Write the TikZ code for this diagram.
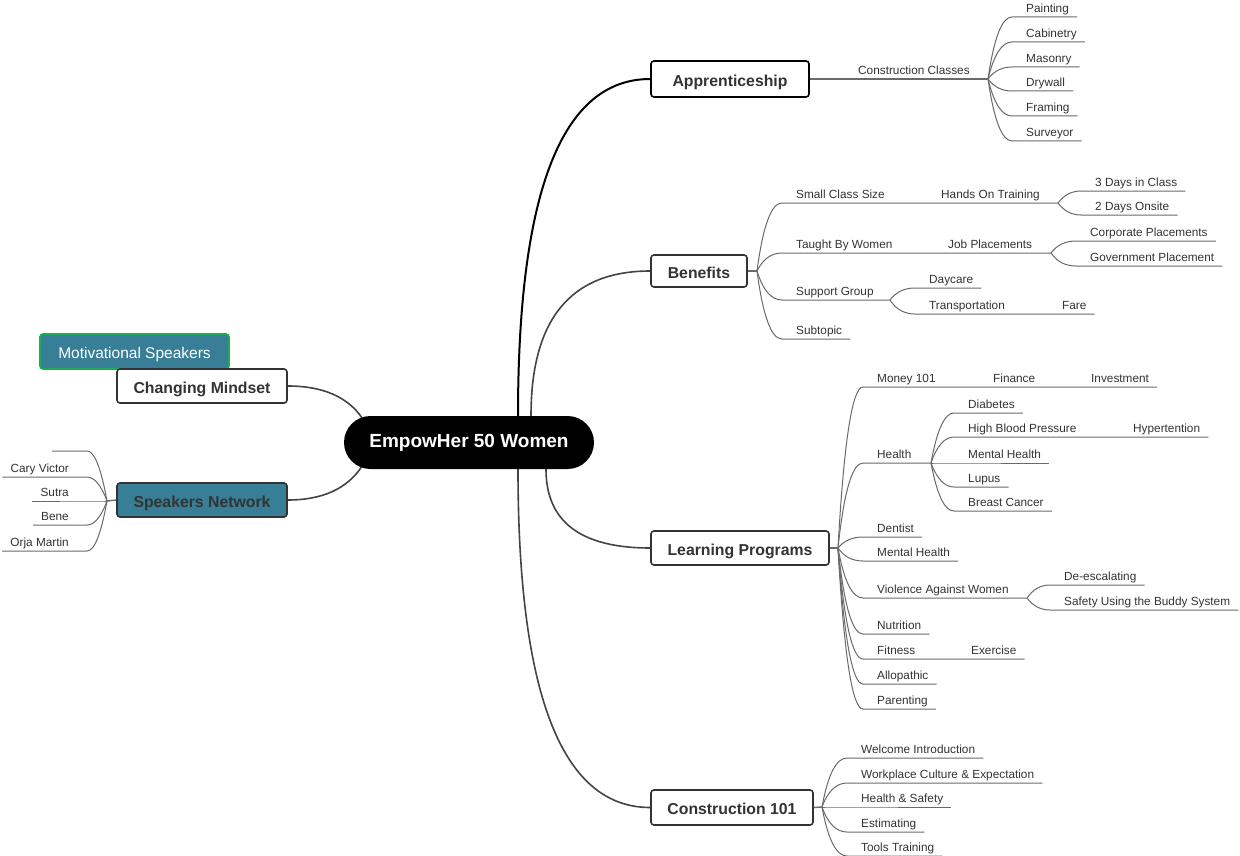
\documentclass[tikz,border=0pt]{standalone}
\usepackage{fontspec}
\setmainfont{Liberation Sans}
\usetikzlibrary{calc,backgrounds}
\definecolor{tealfill}{HTML}{377E96}
\definecolor{grnline}{HTML}{1AAF55}
\definecolor{txtc}{HTML}{333333}
\definecolor{twigc}{HTML}{6A6A6A}
\definecolor{branchc}{HTML}{444444}
\tikzset{
  leaf/.style={inner xsep=0pt, inner ysep=4.5pt, text height=8.6pt, text depth=0pt,
    font=\fontsize{11.8}{14}\selectfont, text=txtc},
  twigline/.style={draw=twigc, line width=1pt},
  topic/.style={draw=txtc, line width=1.6pt, rounded corners=3pt, fill=white, inner sep=0pt,
    text height=14.5pt, text depth=0pt,
    font=\bfseries\fontsize{15.8}{18}\selectfont, text=txtc},
  central/.style={fill=black, rounded corners=26.5pt, minimum width=250pt, minimum height=53pt,
    inner sep=0pt, text=white, font=\bfseries\fontsize{19}{22}\selectfont},
  mainbranch/.style={draw=branchc, line width=1.6pt},
}
% quadratic-looking curve: start, control, end (all coordinate names)
\newcommand{\qcurve}[4][]{%
  \draw[#1] (#2) .. controls ($(#2)!0.667!(#3)$) and ($(#4)!0.667!(#3)$) .. (#4);
}
% right-hand twig: parent, node name, end of underline
\newcommand{\twigC}[3]{%
  \coordinate (#2-k) at ($(#1 |- #2.south west)+(9,0)$);
  \coordinate (#2-e) at ([xshift=-14pt]#2.south west);
  \draw[twigline] (#1) .. controls ($(#1)!0.667!(#2-k)$) and ($(#2-e)!0.667!(#2-k)$) .. (#2-e) -- #3;
}
% right-hand leaf: parent, name, text x, line y, text
\newcommand{\twigR}[5]{%
  \node[leaf, anchor=south west] (#2) at (#3,#4) {#5};
  \twigC{#1}{#2}{([xshift=8pt]#2.south east)}
}
% left-hand leaf: parent, name, text end x, line y, text
\newcommand{\twigL}[5]{%
  \node[leaf, anchor=south east] (#2) at (#3,#4) {#5};
  \coordinate (#2-k) at ($(#1 |- #2.south east)+(-9,0)$);
  \coordinate (#2-e) at ([xshift=18pt]#2.south east);
  \draw[twigline] (#1) .. controls ($(#1)!0.667!(#2-k)$) and ($(#2-e)!0.667!(#2-k)$) .. (#2-e) -- ([xshift=-8pt]#2.south west);
}
\begin{document}
\begin{tikzpicture}[x=1pt,y=-1pt]
\useasboundingbox (0,0) rectangle (1240,856);

% ---------- main nodes ----------
\node[central] (c) at (469,442.5) {EmpowHer 50 Women};
\node[topic, draw=black, minimum width=158pt, minimum height=36pt] (app) at (730,79) {Apprenticeship};
\node[topic, minimum width=96pt, minimum height=32pt] (ben) at (699,271) {Benefits};
\node[topic, minimum width=178pt, minimum height=34pt] (lp) at (740,548) {Learning Programs};
\node[topic, minimum width=162pt, minimum height=35pt] (cone) at (732,807.5) {Construction 101};
\node[draw=grnline, fill=tealfill, line width=1.6pt, rounded corners=3pt, inner sep=0pt,
      minimum width=189pt, minimum height=35pt, text=white, text height=13pt, text depth=0pt,
      font=\fontsize{15.5}{18}\selectfont] (ms) at (134.5,351.5) {Motivational Speakers};
\node[topic, minimum width=170pt, minimum height=34pt] (cm) at (202,386) {Changing Mindset};
\node[topic, fill=tealfill, minimum width=170pt, minimum height=34pt] (sn) at (202,500) {Speakers Network};

% ---------- main branches ----------
\coordinate (sA) at ($(c.north)+(49,0)$);   \coordinate (kA) at (sA |- app.west);
\coordinate (sB) at ($(c.north)+(62,0)$);   \coordinate (kB) at (sB |- ben.west);
\coordinate (sL) at ($(c.south)+(77,0)$);   \coordinate (kL) at (sL |- lp.west);
\coordinate (sC) at ($(c.south)+(49,0)$);   \coordinate (kC) at (sC |- cone.west);
\coordinate (sM) at ($(c.north)+(-107,2)$); \coordinate (kM) at ($(cm.east)+(52,0)$);
\coordinate (sN) at ($(c.south)+(-107,-3)$);\coordinate (kN) at ($(sn.east)+(52,0)$);
\begin{pgfonlayer}{background}
\fill[white] (0,0) rectangle (1240,856);
\qcurve[mainbranch, draw=black, line width=2pt]{sA}{kA}{app.west}
\qcurve[mainbranch]{sB}{kB}{ben.west}
\qcurve[mainbranch]{sL}{kL}{lp.west}
\qcurve[mainbranch]{sC}{kC}{cone.west}
\qcurve[mainbranch]{sM}{kM}{cm.east}
\qcurve[mainbranch]{sN}{kN}{sn.east}
\end{pgfonlayer}

% ---------- Apprenticeship ----------
\coordinate (jA) at (988,79);
\node[leaf, anchor=south west] (cc) at (858,79) {Construction Classes};
\draw[twigline, line width=1.4pt] (app.east) -- (jA);
\twigR{jA}{pa}{1026}{17}{Painting}
\twigR{jA}{ca}{1026}{42}{Cabinetry}
\twigR{jA}{ma}{1026}{67}{Masonry}
\twigR{jA}{dr}{1026}{91}{Drywall}
\twigR{jA}{fr}{1026}{116}{Framing}
\twigR{jA}{su}{1026}{141}{Surveyor}

% ---------- Benefits ----------
\coordinate (jB) at (757,271);
\draw[twigline, line width=1.4pt] (ben.east) -- (jB);
\coordinate (jH) at (1058,203);
\node[leaf, anchor=south west] (scs) at (796,203) {Small Class Size};
\node[leaf, anchor=south west] (hot) at (941,203) {Hands On Training};
\twigC{jB}{scs}{(jH)}
\twigR{jH}{dthree}{1095}{191}{3 Days in Class}
\twigR{jH}{dtwo}{1095}{215}{2 Days Onsite}

\coordinate (jJ) at (1051,253);
\node[leaf, anchor=south west] (tbw) at (796,253) {Taught By Women};
\node[leaf, anchor=south west] (jp) at (948,253) {Job Placements};
\twigC{jB}{tbw}{(jJ)}
\twigR{jJ}{cp}{1090}{241}{Corporate Placements}
\twigR{jJ}{gp}{1090}{266}{Government Placement}

\coordinate (jSG) at (890,300);
\node[leaf, anchor=south west] (sg) at (796,300) {Support Group};
\twigC{jB}{sg}{(jSG)}
\twigR{jSG}{dc}{929}{288}{Daycare}
\node[leaf, anchor=south west] (tr) at (929,314) {Transportation};
\node[leaf, anchor=south west] (fare) at (1062,314) {Fare};
\twigC{jSG}{tr}{([xshift=8pt]fare.south east)}
\twigR{jB}{sub}{796}{339}{Subtopic}

% ---------- Learning Programs ----------
\coordinate (jL) at (838,548);
\draw[twigline, line width=1.4pt] (lp.east) -- (jL);
\node[leaf, anchor=south west] (mon) at (877,387) {Money 101};
\node[leaf, anchor=south west] (fin) at (993,387) {Finance};
\node[leaf, anchor=south west] (inv) at (1091,387) {Investment};
\twigC{jL}{mon}{([xshift=8pt]inv.south east)}

\coordinate (jHe) at (931,463);
\node[leaf, anchor=south west] (hl) at (877,463) {Health};
\twigC{jL}{hl}{(jHe)}
\twigR{jHe}{dia}{968}{413}{Diabetes}
\node[leaf, anchor=south west] (hbp) at (968,437) {High Blood Pressure};
\node[leaf, anchor=south west] (hyp) at (1133,437) {Hypertention};
\twigC{jHe}{hbp}{([xshift=8pt]hyp.south east)}
\twigR{jHe}{mhone}{968}{463}{Mental Health}
\twigR{jHe}{lup}{968}{487}{Lupus}
\twigR{jHe}{bc}{968}{511}{Breast Cancer}

\twigR{jL}{den}{877}{537}{Dentist}
\twigR{jL}{mhtwo}{877}{561}{Mental Health}
\coordinate (jV) at (1027,598);
\node[leaf, anchor=south west] (vaw) at (877,598) {Violence Against Women};
\twigC{jL}{vaw}{(jV)}
\twigR{jV}{de}{1064}{585}{De-escalating}
\twigR{jV}{bud}{1064}{610}{Safety Using the Buddy System}
\twigR{jL}{nut}{877}{634}{Nutrition}
\node[leaf, anchor=south west] (fit) at (877,659) {Fitness};
\node[leaf, anchor=south west] (exe) at (971,659) {Exercise};
\twigC{jL}{fit}{([xshift=8pt]exe.south east)}
\twigR{jL}{allo}{877}{684}{Allopathic}
\twigR{jL}{par}{877}{709}{Parenting}

% ---------- Construction 101 ----------
\coordinate (jC) at (822,807);
\draw[twigline, line width=1.4pt] (cone.east) -- (jC);
\twigR{jC}{wi}{861}{758}{Welcome Introduction}
\twigR{jC}{wc}{861}{783}{Workplace Culture \& Expectation}
\twigR{jC}{hs}{861}{807}{Health \& Safety}
\twigR{jC}{est}{861}{832}{Estimating}
\twigR{jC}{tt}{861}{856}{Tools Training}

% ---------- Speakers Network ----------
\coordinate (jS) at (107,501);
\draw[twigline, line width=1.4pt] (sn.west) -- (jS);
\coordinate (blkA) at (87,451);
\coordinate (blkB) at (52,451);
\coordinate (blkK) at (98,451);
\draw[twigline] (jS) .. controls ($(jS)!0.667!(blkK)$) and ($(blkA)!0.667!(blkK)$) .. (blkA) -- (blkB);
\twigL{jS}{cv}{69}{477}{Cary Victor}
\twigL{jS}{sut}{69}{501}{Sutra}
\twigL{jS}{bene}{69}{525}{Bene}
\twigL{jS}{om}{69}{551}{Orja Martin}
\end{tikzpicture}
\end{document}
